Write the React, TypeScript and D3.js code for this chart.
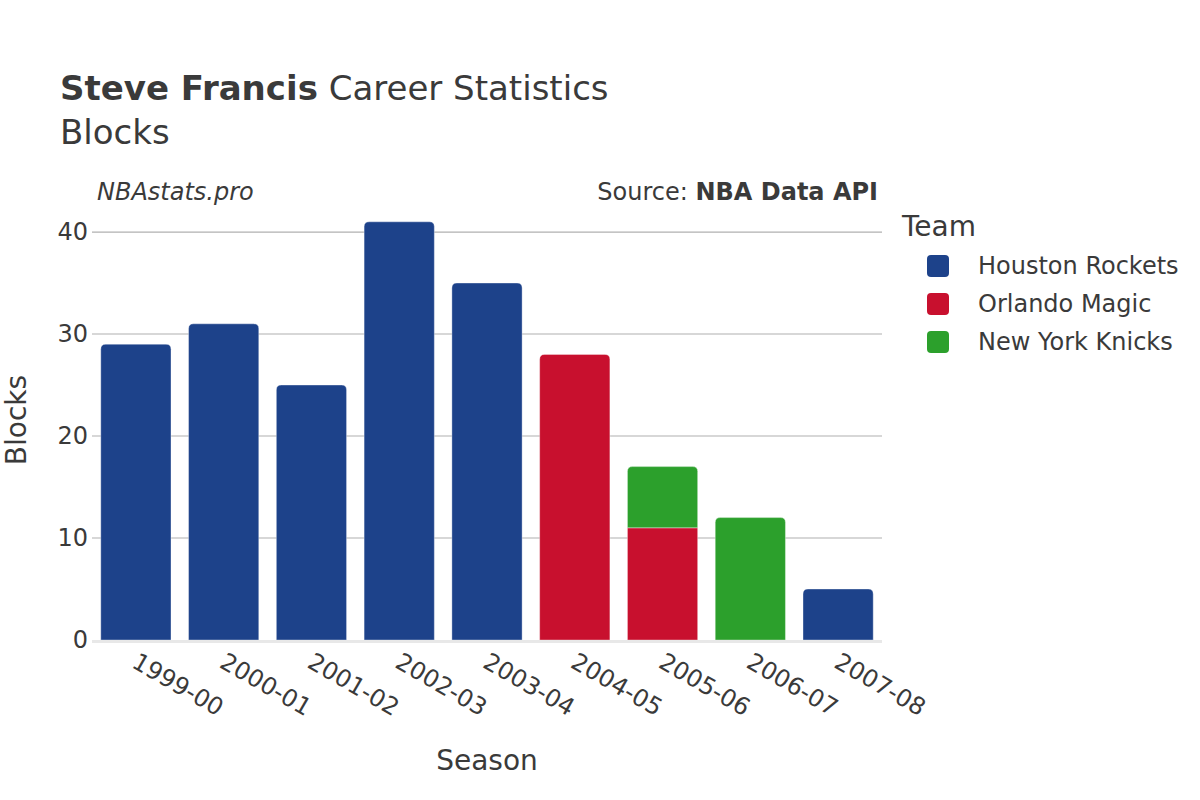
import React from 'react'
import * as d3 from 'd3'

const seasons = ['1999-00', '2000-01', '2001-02', '2002-03', '2003-04', '2004-05', '2005-06', '2006-07', '2007-08']
const teams = ['Houston Rockets', 'Orlando Magic', 'New York Knicks']
const teamColors = ['#1d428a', '#c8102e', '#2ca02c']
// blocks per season, one array per team (stack order: Rockets, Magic, Knicks)
const rocketsBlocks = [29, 31, 25, 41, 35, 0, 0, 0, 5]
const magicBlocks = [0, 0, 0, 0, 0, 28, 11, 0, 0]
const knicksBlocks = [0, 0, 0, 0, 0, 0, 6, 12, 0]
const yTicks = [0, 10, 20, 30, 40]

const W = 1200
const H = 800
const FONT = '"DejaVu Sans", Verdana, sans-serif'
const TXT = '#3a3a3a'

// rounded-top rect path
function barPath(x: number, y: number, w: number, h: number, r: number) {
  if (r <= 0) return `M${x},${y + h}V${y}H${x + w}V${y + h}Z`
  r = Math.min(r, h, w / 2)
  return `M${x},${y + h}V${y + r}Q${x},${y} ${x + r},${y}H${x + w - r}Q${x + w},${y} ${x + w},${y + r}V${y + h}Z`
}

export default function App() {
  const x = d3.scaleBand().domain(seasons).range([92, 882]).paddingInner(0.2).paddingOuter(0.1)
  const y = d3.scaleLinear().domain([0, 43.14]).range([640, 200])

  const series = [rocketsBlocks, magicBlocks, knicksBlocks]
  const bars: JSX.Element[] = []
  seasons.forEach((s, i) => {
    let base = 0
    const nonZero = series.map((arr, k) => (arr[i] > 0 ? k : -1)).filter(k => k >= 0)
    const topK = nonZero[nonZero.length - 1]
    series.forEach((arr, k) => {
      const v = arr[i]
      if (!v) return
      const y0 = y(base)
      const y1 = y(base + v)
      base += v
      bars.push(
        <path key={s + k} d={barPath(x(s)!, y1, x.bandwidth(), y0 - y1, k === topK ? 5 : 0)}
          fill={teamColors[k]} stroke="#ffffff" strokeOpacity={0.6} strokeWidth={0.6} />
      )
    })
  })

  return (
    <svg width={W} height={H} style={{ position: 'absolute', left: 0, top: 0, fontFamily: FONT }}>
      <rect width={W} height={H} fill="#ffffff" />
      <text x={60} y={100} fontSize={34} fill={TXT}>
        <tspan fontWeight="bold">Steve Francis</tspan> Career Statistics
      </text>
      <text x={60} y={144} fontSize={34} fill={TXT}>Blocks</text>
      <text x={97} y={200} fontSize={24} fontStyle="italic" fill={TXT}>NBAstats.pro</text>
      <text x={878} y={200} fontSize={24} textAnchor="end" fill={TXT}>
        Source: <tspan fontWeight="bold">NBA Data API</tspan>
      </text>

      {yTicks.filter(t => t > 0).map(t => (
        <line key={t} x1={92} x2={882} y1={y(t)} y2={y(t)} stroke="#b0b0b0" strokeWidth={1.2} />
      ))}
      {bars}
      <line x1={92} x2={882} y1={y(0) + 1.5} y2={y(0) + 1.5} stroke="#e8e8e8" strokeWidth={3} />

      {yTicks.map(t => (
        <text key={t} x={88} y={y(t)} dy="0.35em" fontSize={24} textAnchor="end" fill={TXT}>{t}</text>
      ))}
      {seasons.map(s => {
        const cx = x(s)! + x.bandwidth() / 2
        return (
          <text key={s} transform={`translate(${cx + 3},${652}) rotate(30)`} dy="0.7em" fontSize={24} fill={TXT}>{s}</text>
        )
      })}
      <text x={487} y={770} fontSize={28} textAnchor="middle" fill={TXT}>Season</text>
      <text transform={`translate(26,420) rotate(-90)`} fontSize={28} textAnchor="middle" fill={TXT}>Blocks</text>

      <text x={902} y={236} fontSize={28} fill={TXT}>Team</text>
      {teams.map((t, i) => (
        <g key={t} transform={`translate(0,${266 + i * 38})`}>
          <rect x={927} y={-11} width={22} height={22} rx={4} fill={teamColors[i]} />
          <text x={978} y={0} dy="0.35em" fontSize={24} fill={TXT}>{t}</text>
        </g>
      ))}
    </svg>
  )
}
